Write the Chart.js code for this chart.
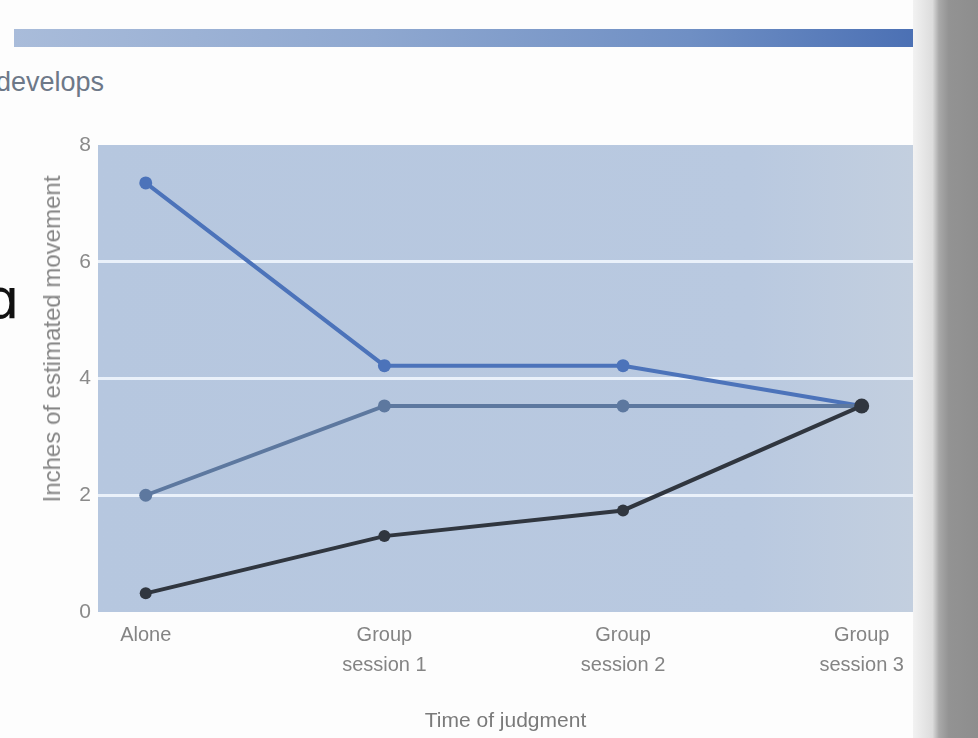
<!DOCTYPE html>
<html>
<head>
<meta charset="utf-8">
<script src="https://cdn.jsdelivr.net/npm/chart.js@4.4.0/dist/chart.umd.min.js"></script>
<style>
  html, body { margin: 0; padding: 0; background: #fff; }
  #page { position: relative; width: 978px; height: 738px; overflow: hidden; background: #fdfdfd; }
  #band { position: absolute; left: 14px; top: 29px; width: 901px; height: 18px;
          background: linear-gradient(to right, #a9bcda, #8fa8d0 40%, #6f8fc4 75%, #4b70b4); }
  #heading { position: absolute; left: -4px; top: 69px; font: 27px "Liberation Sans", sans-serif; line-height: 1;
             color: #6d7888; }
  #letter { position: absolute; left: -16px; top: 271px; font: 56px "DejaVu Sans", sans-serif; line-height: 1; color: #111; }
  #gutter { position: absolute; left: 913px; top: 0; width: 65px; height: 738px;
            background: linear-gradient(to right, #f2f2f2, #dcdcdc 30%, #a9a9a9 40%, #939393 55%, #8d8d8d); }
  #ytitle { position: absolute; left: 52px; top: 339px; transform: translate(-50%, -50%) rotate(-90deg);
            white-space: nowrap; font: 24px "Liberation Sans", sans-serif; line-height: 1; color: #858585; }
  #chart { position: absolute; left: 0; top: 0; }
</style>
</head>
<body>
<div id="page">
  <div id="band"></div>
  <div id="heading">develops</div>
  <div id="letter">ɑ</div>
  <div id="gutter"></div>
  <canvas id="chart" width="978" height="738"></canvas>
  <div id="ytitle">Inches of estimated movement</div>
</div>
<script>
/* ===========================
   DATA
=========================== */
const xLabels = [["Alone"], ["Group", "session 1"], ["Group", "session 2"], ["Group", "session 3"]];
const yTicks = [0, 2, 4, 6, 8];

const serieAlta = [7.35, 4.22, 4.22, 3.53];
const serieMedia = [2.0, 3.53, 3.53, 3.53];
const serieBaixa = [0.32, 1.3, 1.74, 3.53];

const FONT = '"Liberation Sans", sans-serif';

function pontos(valores) {
    return valores.map((v, i) => ({ x: i, y: v }));
}

/* ===========================
   PLOT BACKGROUND
=========================== */
const fundoPlot = {
    id: "fundoPlot",
    beforeDraw(chart) {
        const { ctx, chartArea: a } = chart;
        const g = ctx.createLinearGradient(a.left, 0, a.right, 0);
        g.addColorStop(0, "#b6c7df");
        g.addColorStop(0.8, "#b9c9e0");
        g.addColorStop(1, "#c3cfdf");
        ctx.save();
        ctx.fillStyle = g;
        ctx.fillRect(a.left, a.top, a.right - a.left, a.bottom - a.top);
        ctx.restore();
    }
};

/* ===========================
   CHART
=========================== */
new Chart(document.getElementById("chart"), {
    type: "line",
    data: {
        datasets: [
            {
                data: pontos(serieBaixa),
                borderColor: "#30363f",
                backgroundColor: "#30363f",
                pointRadius: [6, 6, 6, 7.5]
            },
            {
                data: pontos(serieMedia),
                borderColor: "#5d789f",
                backgroundColor: "#5d789f",
                pointRadius: 6.5
            },
            {
                data: pontos(serieAlta),
                borderColor: "#4c73ba",
                backgroundColor: "#4c73ba",
                pointRadius: 6.5
            }
        ]
    },
    options: {
        responsive: false,
        animation: false,
        layout: { padding: { top: 145, right: 65, left: 0, bottom: 0 } },
        elements: {
            line: { borderWidth: 4, tension: 0 },
            point: { borderWidth: 0, hoverRadius: 6 }
        },
        plugins: {
            legend: { display: false },
            tooltip: { enabled: false }
        },
        scales: {
            x: {
                type: "linear",
                min: -0.2,
                max: 3.215,
                afterBuildTicks: s => { s.ticks = xLabels.map((_, i) => ({ value: i })); },
                afterFit: s => { s.height = 126; },
                border: { display: false },
                grid: { display: false, drawTicks: false },
                ticks: {
                    padding: 8,
                    color: "#848484",
                    font: { family: FONT, size: 20, lineHeight: "30px" },
                    maxRotation: 0,
                    autoSkip: false,
                    callback: v => xLabels[v]
                },
                title: {
                    display: true,
                    text: "Time of judgment",
                    color: "#7a7a7a",
                    font: { family: FONT, size: 21 },
                    padding: { top: 0, bottom: 4 }
                }
            },
            y: {
                min: 0,
                max: 8,
                afterBuildTicks: s => { s.ticks = yTicks.map(v => ({ value: v })); },
                afterFit: s => { s.width = 98; },
                border: { display: false },
                grid: {
                    drawTicks: false,
                    lineWidth: 3,
                    color: c => (c.tick.value === 0 || c.tick.value === 8) ? "rgba(0,0,0,0)" : "#eaf1fa"
                },
                ticks: {
                    padding: 7,
                    color: "#8a8a8a",
                    font: { family: FONT, size: 21 }
                }
            }
        }
    },
    plugins: [fundoPlot]
});
</script>
</body>
</html>
